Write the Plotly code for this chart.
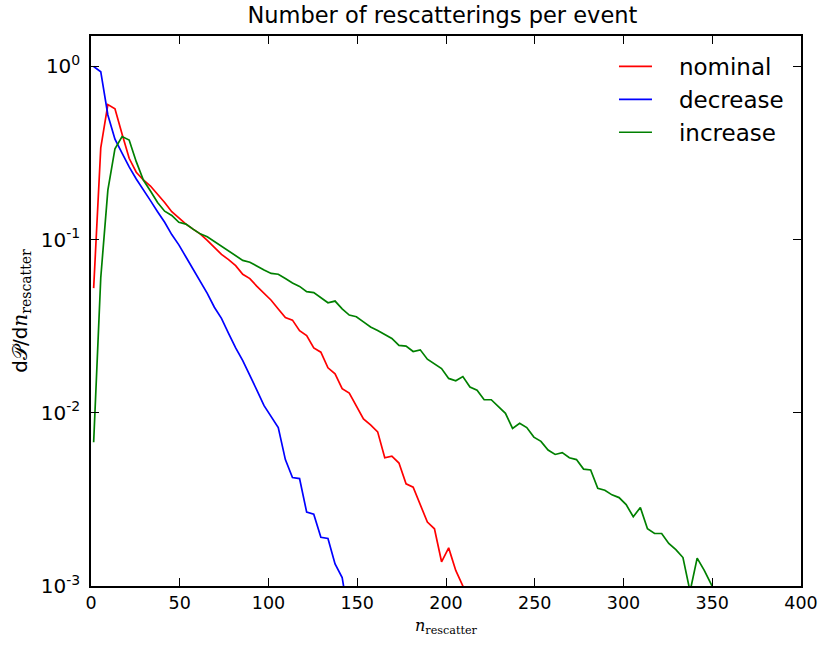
import plotly.graph_objects as go

# bin centres (n_rescatter)
x_nominal = [1.5, 5.5, 9.5, 13.5, 17.5, 21.5, 25.5, 29.5, 33.5, 37.5, 41.5, 45.5, 49.5, 53.5, 57.5,
             61.5, 65.5, 69.5, 73.5, 77.5, 81.5, 85.5, 89.5, 93.5, 97.5, 101.5, 105.5, 109.5, 113.5,
             117.5, 121.5, 125.5, 129.5, 133.5, 137.5, 141.5, 145.5, 149.5, 153.5, 157.5, 161.5,
             165.5, 169.5, 173.5, 177.5, 181.5, 185.5, 189.5, 193.5, 197.5, 201.5, 205.5, 209.5, 213.5]
y_nominal = [0.0525, 0.339, 0.603, 0.569, 0.407, 0.295, 0.245, 0.221, 0.204, 0.184, 0.164, 0.145,
             0.133, 0.123, 0.115, 0.108, 0.0989, 0.0902, 0.0822, 0.0767, 0.0708, 0.0631, 0.0596,
             0.0537, 0.0490, 0.0447, 0.0398, 0.0355, 0.0343, 0.0298, 0.0279, 0.0237, 0.0224, 0.0182,
             0.0168, 0.0138, 0.0130, 0.0110, 0.00923, 0.00851, 0.00776, 0.00550, 0.00562, 0.00513,
             0.00389, 0.00372, 0.00295, 0.00234, 0.00214, 0.00138, 0.00166, 0.00123, 0.00100, 0.00071]

x_decrease = [1.5, 5.5, 9.5, 13.5, 17.5, 21.5, 25.5, 29.5, 33.5, 37.5, 41.5, 45.5, 49.5, 53.5, 57.5,
              61.5, 65.5, 69.5, 73.5, 77.5, 81.5, 85.5, 89.5, 93.5, 97.5, 101.5, 105.5, 109.5, 113.5,
              117.5, 121.5, 125.5, 129.5, 133.5, 137.5, 141.5, 145.5]
y_decrease = [1.0, 0.933, 0.525, 0.380, 0.316, 0.263, 0.224, 0.195, 0.168, 0.145, 0.126, 0.107,
              0.0933, 0.0794, 0.0676, 0.0582, 0.0490, 0.0407, 0.0351, 0.0288, 0.0237, 0.0200, 0.0166,
              0.0135, 0.0110, 0.00955, 0.00822, 0.00537, 0.00423, 0.00417, 0.00267, 0.00260, 0.00191,
              0.00188, 0.00134, 0.00112, 0.00063]

x_increase = [1.5, 5.5, 9.5, 13.5, 17.5, 21.5, 25.5, 29.5, 33.5, 37.5, 41.5, 45.5, 49.5, 53.5, 57.5,
              61.5, 65.5, 69.5, 73.5, 77.5, 81.5, 85.5, 89.5, 93.5, 97.5, 101.5, 105.5, 109.5, 113.5,
              117.5, 121.5, 125.5, 129.5, 133.5, 137.5, 141.5, 145.5, 149.5, 153.5, 157.5, 161.5,
              165.5, 169.5, 173.5, 177.5, 181.5, 185.5, 189.5, 193.5, 197.5, 201.5, 205.5, 209.5,
              213.5, 217.5, 221.5, 225.5, 229.5, 233.5, 237.5, 241.5, 245.5, 249.5, 253.5, 257.5,
              261.5, 265.5, 269.5, 273.5, 277.5, 281.5, 285.5, 289.5, 293.5, 297.5, 301.5, 305.5,
              309.5, 313.5, 317.5, 321.5, 325.5, 329.5, 333.5, 337.5, 341.5, 345.5, 349.5, 353.5]
y_increase = [0.00676, 0.0603, 0.193, 0.335, 0.394, 0.376, 0.282, 0.221, 0.191, 0.164, 0.146, 0.138,
              0.126, 0.123, 0.115, 0.108, 0.104, 0.0977, 0.0912, 0.0861, 0.0804, 0.0759, 0.0741,
              0.0700, 0.0668, 0.0638, 0.0631, 0.0596, 0.0562, 0.0537, 0.0501, 0.0495, 0.0462, 0.0432,
              0.0442, 0.0398, 0.0367, 0.0359, 0.0335, 0.0313, 0.0299, 0.0285, 0.0269, 0.0245, 0.0243,
              0.0226, 0.0231, 0.0204, 0.0191, 0.0180, 0.0158, 0.0153, 0.0162, 0.0141, 0.0135, 0.0119,
              0.0119, 0.0108, 0.00993, 0.00813, 0.00871, 0.00822, 0.00724, 0.00684, 0.00610, 0.00575,
              0.00589, 0.00550, 0.00537, 0.00473, 0.00468, 0.00367, 0.00357, 0.00336, 0.00324,
              0.00295, 0.00251, 0.00284, 0.00214, 0.00201, 0.00201, 0.00176, 0.00162, 0.00146,
              0.00093, 0.00145, 0.00123, 0.00102, 0.00079]

x_ticks = [0, 50, 100, 150, 200, 250, 300, 350, 400]
y_ticks = [0.001, 0.01, 0.1, 1]
y_ticktext = ["10<sup>-3</sup>", "10<sup>-2</sup>", "10<sup>-1</sup>", "10<sup>0</sup>"]

NB = "\u00a0\u00a0\u00a0"
fig = go.Figure()
for xs, ys, name, color in [
    (x_nominal, y_nominal, "nominal", "#ff0000"),
    (x_decrease, y_decrease, "decrease", "#0000ff"),
    (x_increase, y_increase, "increase", "#008000"),
]:
    fig.add_trace(go.Scatter(x=xs, y=ys, mode="lines", name=NB + name,
                             line=dict(color=color, width=1.7)))

axis_common = dict(
    showline=True, linecolor="black", linewidth=1.5, mirror="ticks",
    ticks="inside", ticklen=8, tickwidth=1, tickcolor="black",
    showgrid=False, zeroline=False, automargin=False,
)

fig.update_layout(
    width=830, height=649,
    margin=dict(l=91, r=29, t=36, b=63),
    paper_bgcolor="white", plot_bgcolor="white",
    font=dict(family="DejaVu Sans", color="black"),
    title=dict(text="Number of rescatterings per event", x=0.533, xanchor="center",
               y=0.977, yanchor="middle", font=dict(size=22.5, family="DejaVu Sans", color="black")),
    xaxis=dict(range=[0, 400], tickvals=x_ticks, ticktext=[str(v) for v in x_ticks],
               tickfont=dict(family="DejaVu Sans", size=17.5, color="black"),
               title=dict(text="<i>n</i><sub>rescatter</sub>",
                          font=dict(family="DejaVu Serif", size=16), standoff=8),
               **axis_common),
    yaxis=dict(type="log", range=[-3, 0.176], tickvals=y_ticks, ticktext=y_ticktext,
               tickfont=dict(family="DejaVu Sans", size=20, color="black"),
               ticklabelstandoff=5,
               title=dict(text="d<span style=\"font-family:DejaVu Serif\">𝒫</span>/d<span style=\"font-family:DejaVu Serif\"><i>n</i><sub>rescatter</sub></span>",
                          font=dict(family="DejaVu Sans", size=20), standoff=8),
               **axis_common),
    legend=dict(x=0.7366, xanchor="left", y=0.9836, yanchor="top",
                bgcolor="rgba(0,0,0,0)", borderwidth=0,
                font=dict(size=23, family="DejaVu Sans", color="black"),
                itemwidth=33, tracegroupgap=0),
    showlegend=True,
)

fig.write_html("out.html", config={"displayModeBar": False},
               post_script="document.body.style.margin='0px';")
